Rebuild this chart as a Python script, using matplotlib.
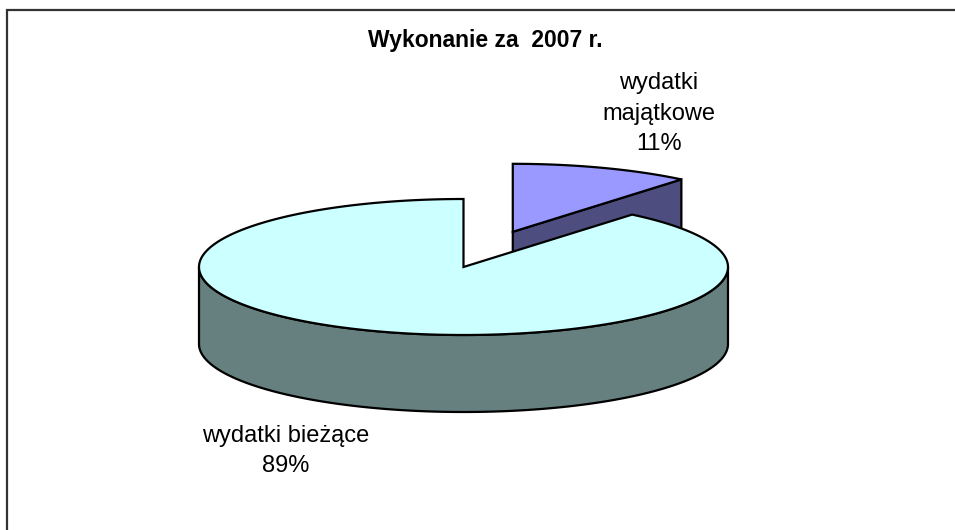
import numpy as np
import matplotlib
matplotlib.use("Agg")
import matplotlib.pyplot as plt
from matplotlib.patches import Polygon

# ---- data ----
categories = ["wydatki\nmajątkowe", "wydatki bieżące"]
values = [11, 89]
title = "Wykonanie za  2007 r."
top_colors = ["#9999FF", "#CCFFFF"]
side_colors = ["#4D4D80", "#668080"]

# ---- geometry (pixel space) ----
W, H = 955, 530
fig = plt.figure(figsize=(W / 100, H / 100), dpi=100)
ax = fig.add_axes([0, 0, 1, 1])
ax.set_xlim(0, W)
ax.set_ylim(H, 0)
ax.axis("off")

cx, cy = 463.5, 267.0
a, b = 264.5, 68.0
depth = 77.0
explode = [0.55, 0.0]
lw = 1.6


def P(theta_deg, ox=0.0, oy=0.0, z=0.0):
    t = np.radians(theta_deg)
    return (cx + ox + a * np.cos(t), cy + oy - b * np.sin(t) + z)


fracs = np.array(values, dtype=float) / np.sum(values)
start = 90.0
slices = []
for i, f in enumerate(fracs):
    t1 = start
    t0 = start - f * 360.0
    mid = np.radians((t0 + t1) / 2)
    ox = a * explode[i] * np.cos(mid)
    oy = -b * explode[i] * np.sin(mid)
    slices.append((t0, t1, ox, oy))
    start = t0

for i in [0, 1]:
    t0, t1, ox, oy = slices[i]
    V = (cx + ox, cy + oy)
    if i == 0:
        E = P(t0, ox, oy)
        face = [V, E, (E[0], E[1] + depth), (V[0], V[1] + depth)]
        ax.add_patch(Polygon(face, closed=True, facecolor=side_colors[i],
                             edgecolor="black", lw=lw, zorder=2 + 2 * i))
    ths = np.linspace(t0, t1, 600)
    m = np.mod(ths, 360.0)
    front = ths[(m >= 180) & (m <= 360)]
    if len(front) > 1:
        top = [P(t, ox, oy) for t in front]
        bot = [P(t, ox, oy, depth) for t in front[::-1]]
        ax.add_patch(Polygon(top + bot, closed=True, facecolor=side_colors[i],
                             edgecolor="black", lw=lw, zorder=2 + 2 * i))
    arc = [P(t, ox, oy) for t in np.linspace(t0, t1, 600)]
    ax.add_patch(Polygon([V] + arc, closed=True, facecolor=top_colors[i],
                         edgecolor="black", lw=lw, joinstyle="miter",
                         zorder=3 + 2 * i))

# ---- labels ----
pcts = [f"{round(v / sum(values) * 100)}%" for v in values]
label_pos = [(659, 114), (286, 451)]
for i in range(len(categories)):
    ax.text(label_pos[i][0], label_pos[i][1], f"{categories[i]}\n{pcts[i]}",
            ha="center", va="center", fontsize=17, family="Liberation Sans",
            linespacing=1.5, color="black", zorder=10)

ax.text(485, 41, title, ha="center", va="center", fontsize=16.5,
        fontweight="bold", family="Liberation Sans", color="black")

# ---- frame ----
ax.plot([7, 7, W], [H, 10, 10], color="#333333", lw=1.6, solid_capstyle="butt",
        solid_joinstyle="miter")

fig.savefig("out.png", dpi=100)
